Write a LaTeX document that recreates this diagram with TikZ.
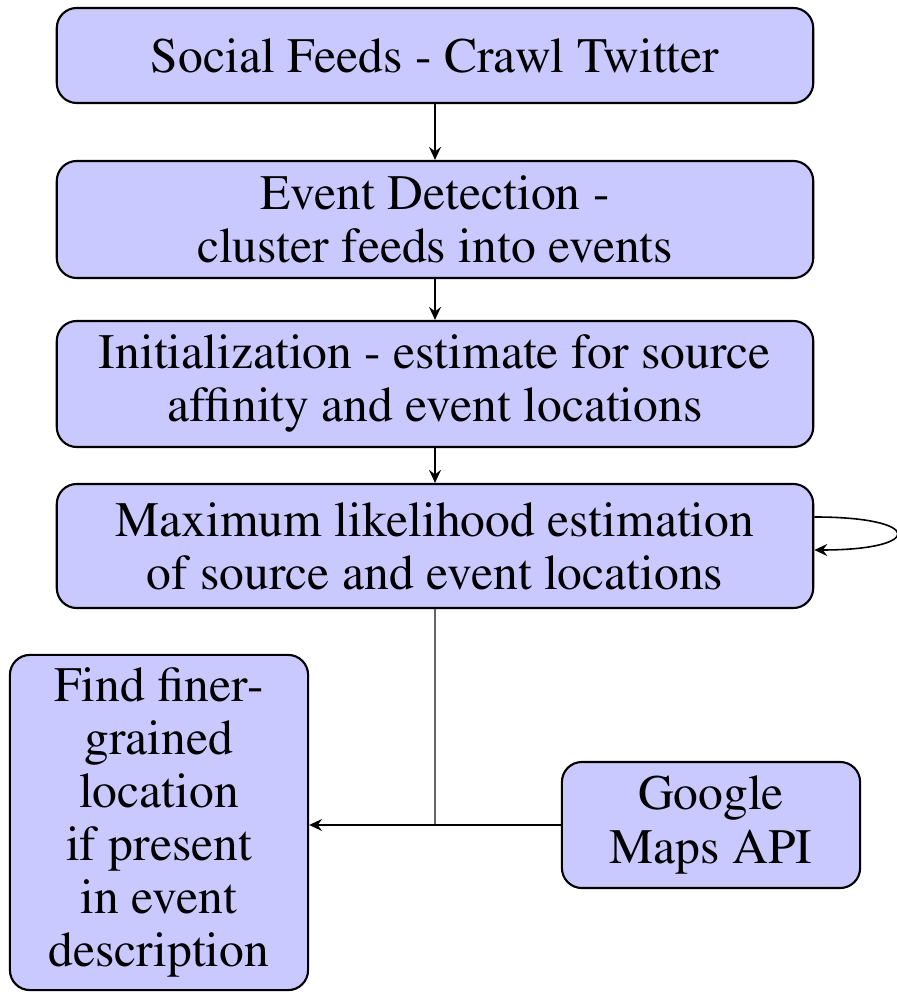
\documentclass[tikz,border=0pt]{standalone}
\usepackage[T1]{fontenc}
\usepackage{mathptmx}
\usetikzlibrary{arrows.meta,positioning}

\begin{document}
\begin{tikzpicture}[
  x=0.01cm,y=-0.01cm,
  stepbox/.style={draw=black,fill=blue!21,rounded corners=2mm,line width=0.6pt,
                  align=center,inner sep=0pt,
                  font=\fontsize{14.1}{15.1}\selectfont},
  flow/.style={-{Stealth[length=1.3mm,width=1.2mm,inset=0.45mm]},line width=0.45pt}
]
\useasboundingbox (0,0) rectangle (896,992);

% main column
\node[stepbox,minimum width=7.56cm,minimum height=0.95cm] (feeds) at (435,55.5)
  {Social Feeds - Crawl Twitter};
\node[stepbox,minimum width=7.56cm,minimum height=1.17cm] (detect) at (435,219.5)
  {Event Detection -\\cluster feeds into events};
\node[stepbox,minimum width=7.56cm,minimum height=1.26cm] (init) at (435,384)
  {Initialization - estimate for source\\affinity and event locations};
\node[stepbox,minimum width=7.56cm,minimum height=1.24cm] (ml) at (435,546)
  {Maximum likelihood estimation\\of source and event locations};

% bottom row
\node[stepbox,minimum width=2.98cm,minimum height=3.35cm] (finer) at (159,822.5)
  {Find finer-\\grained\\location\\if present\\in event\\description};
\node[stepbox,minimum width=2.98cm,minimum height=1.26cm] (gmaps) at (711,825)
  {Google\\Maps API};

\draw[flow] (feeds) -- (detect);
\draw[flow] (detect) -- (init);
\draw[flow] (init) -- (ml);
\draw[flow] ([yshift=2.9mm]ml.east) .. controls +(110,0) and +(110,0) .. ([yshift=-0.4mm]ml.east);

\coordinate (join) at (ml.south |- gmaps.west);
\draw[gray!80!black,line width=0.5pt] (ml.south) -- (join);
\draw[flow] (gmaps.west) -- (finer.east |- gmaps.west);
\end{tikzpicture}
\end{document}
